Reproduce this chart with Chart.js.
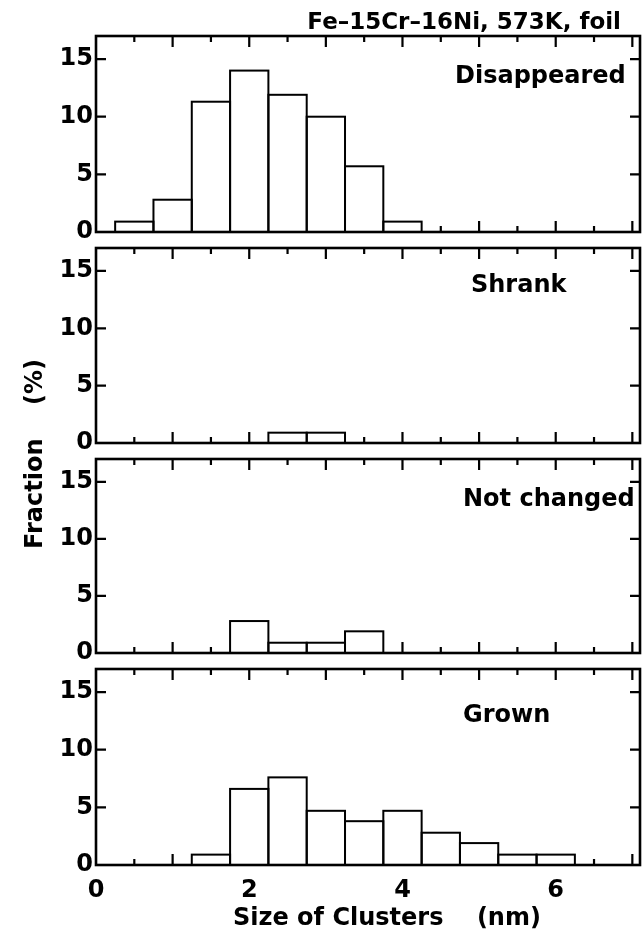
<!DOCTYPE html>
<html>
<head>
<meta charset="utf-8">
<script src="https://cdn.jsdelivr.net/npm/chart.js@4.4.0/dist/chart.umd.min.js"></script>
<style>
  body { margin: 0; background: #fff; }
  #wrap { position: relative; width: 643px; height: 935px; }
  #wrap canvas { position: absolute; left: 0; top: 0; }
</style>
</head>
<body>
<div id="wrap">
  <canvas id="panel0" width="643" height="935"></canvas>
  <canvas id="panel1" width="643" height="935"></canvas>
  <canvas id="panel2" width="643" height="935"></canvas>
  <canvas id="panel3" width="643" height="935"></canvas>
</div>
<script>
// cluster size bins (nm), 0.5 nm wide
var binCenters = [0.5, 1.0, 1.5, 2.0, 2.5, 3.0, 3.5, 4.0, 4.5, 5.0, 5.5, 6.0, 6.5];

// fraction (%) per bin
var disappeared = [0.9, 2.8, 11.3, 14.0, 11.9, 10.0, 5.7, 0.9, 0, 0, 0, 0, 0];
var shrank      = [0, 0, 0, 0, 0.9, 0.9, 0, 0, 0, 0, 0, 0, 0];
var notChanged  = [0, 0, 0, 2.8, 0.9, 0.9, 1.9, 0, 0, 0, 0, 0, 0];
var grown       = [0, 0, 0.9, 6.6, 7.6, 4.7, 3.8, 4.7, 2.8, 1.9, 0.9, 0.9, 0];

var panelNames = ["Disappeared", "Shrank", "Not changed", "Grown"];
var panelSeries = [disappeared, shrank, notChanged, grown];

var xTickLabels = [0, 2, 4, 6];
var yTickLabels = [0, 5, 10, 15];
var xTickMarks = [0.5, 1, 1.5, 2, 2.5, 3, 3.5, 4, 4.5, 5, 5.5, 6, 6.5, 7];
var yTickMarks = [5, 10, 15];

var FONT = '"DejaVu Sans", sans-serif';
var PAGE_H = 935;
var X_AXIS_H = 50;

// top / bottom of each plot frame on the page
var panelTop = [36, 248, 459, 669];
var panelBottom = [232, 443, 653, 865];
// panel name position, from the frame's top-left corner
var nameOffset = [[359, 47], [375, 44], [367, 47], [367, 53]];

// inward tick marks, drawn first so the white bars sit on top of them
var tickPlugin = {
    id: "tickMarks",
    beforeDatasetsDraw: function (chart) {
        var ctx = chart.ctx, a = chart.chartArea;
        var x = chart.scales.x, y = chart.scales.y;
        ctx.save();
        ctx.strokeStyle = "#000";
        ctx.lineWidth = 2.2;
        ctx.beginPath();
        xTickMarks.forEach(function (v) {
            var px = x.getPixelForValue(v);
            var len = v % 1 === 0 ? 11 : 6;
            ctx.moveTo(px, a.top); ctx.lineTo(px, a.top + len);
            ctx.moveTo(px, a.bottom); ctx.lineTo(px, a.bottom - len);
        });
        yTickMarks.forEach(function (v) {
            var py = y.getPixelForValue(v);
            ctx.moveTo(a.left, py); ctx.lineTo(a.left + 10, py);
            ctx.moveTo(a.right, py); ctx.lineTo(a.right - 10, py);
        });
        ctx.stroke();
        ctx.restore();
    }
};

// bar outlines (shared 2px edges) and the box frame
var framePlugin = {
    id: "frame",
    afterDatasetsDraw: function (chart) {
        var ctx = chart.ctx, a = chart.chartArea;
        ctx.save();
        ctx.strokeStyle = "#000";
        ctx.lineWidth = 2;
        chart.getDatasetMeta(0).data.forEach(function (bar) {
            var p = bar.getProps(["x", "y", "base", "width"], true);
            if (p.base - p.y < 0.5) return;
            ctx.strokeRect(p.x - p.width / 2, p.y, p.width, p.base - p.y);
        });
        ctx.lineWidth = 2.6;
        ctx.strokeRect(a.left, a.top, a.right - a.left, a.bottom - a.top);
        ctx.restore();
    }
};

// panel name + free captions
var textPlugin = {
    id: "texts",
    afterDraw: function (chart, args, opts) {
        var ctx = chart.ctx, a = chart.chartArea;
        ctx.save();
        ctx.fillStyle = "#000";
        ctx.textBaseline = "alphabetic";
        if (opts.name) {
            ctx.font = "bold 24px " + FONT;
            ctx.textAlign = "left";
            ctx.fillText(opts.name, a.left + opts.offset[0], a.top + opts.offset[1]);
        }
        (opts.captions || []).forEach(function (c) {
            ctx.save();
            ctx.font = "bold " + c.size + "px " + FONT;
            ctx.textAlign = c.align;
            ctx.translate(c.x, c.y);
            if (c.rotate) ctx.rotate(-Math.PI / 2);
            ctx.fillText(c.text, 0, 0);
            ctx.restore();
        });
        ctx.restore();
    }
};

function makePanel(i) {
    var last = i === panelSeries.length - 1;
    var captions = [];
    if (i === 0) {
        captions.push({ text: "Fe\u201315Cr\u201316Ni, 573K, foil", x: 621, y: 29, align: "right", size: 23 });
    }
    if (last) {
        captions.push({ text: "Size of Clusters    (nm)", x: 233, y: 925, align: "left", size: 24 });
        captions.push({ text: "Fraction    (%)", x: 42, y: 454, align: "center", size: 24, rotate: true });
    }
    var tickFont = { family: FONT, size: 24, weight: "bold" };

    return new Chart(document.getElementById("panel" + i), {
        type: "bar",
        data: {
            datasets: [{
                data: binCenters.map(function (c, j) { return { x: c, y: panelSeries[i][j] }; }),
                backgroundColor: "#fff",
                borderWidth: 0,
                barPercentage: 1,
                categoryPercentage: 1
            }]
        },
        options: {
            responsive: false,
            animation: false,
            events: [],
            layout: {
                padding: {
                    left: 0,
                    right: 3,
                    top: panelTop[i],
                    bottom: PAGE_H - panelBottom[i] - (last ? X_AXIS_H : 0)
                }
            },
            plugins: {
                legend: { display: false },
                tooltip: { enabled: false },
                texts: { name: panelNames[i], offset: nameOffset[i], captions: captions }
            },
            scales: {
                x: {
                    type: "linear",
                    min: 0,
                    max: 7.1,
                    offset: false,
                    display: last,
                    grid: { display: false, drawTicks: false },
                    border: { display: false },
                    afterBuildTicks: function (s) { s.ticks = xTickLabels.map(function (v) { return { value: v }; }); },
                    afterFit: function (s) { s.height = last ? X_AXIS_H : 0; },
                    ticks: { font: tickFont, color: "#000", padding: 11, maxRotation: 0, autoSkip: false }
                },
                y: {
                    min: 0,
                    max: 17,
                    grid: { display: false, drawTicks: false },
                    border: { display: false },
                    afterBuildTicks: function (s) { s.ticks = yTickLabels.map(function (v) { return { value: v }; }); },
                    afterFit: function (s) { s.width = 96; },
                    ticks: { font: tickFont, color: "#000", padding: 3 }
                }
            }
        },
        plugins: [tickPlugin, framePlugin, textPlugin]
    });
}

for (var i = 0; i < panelSeries.length; i++) {
    makePanel(i);
}
</script>
</body>
</html>
